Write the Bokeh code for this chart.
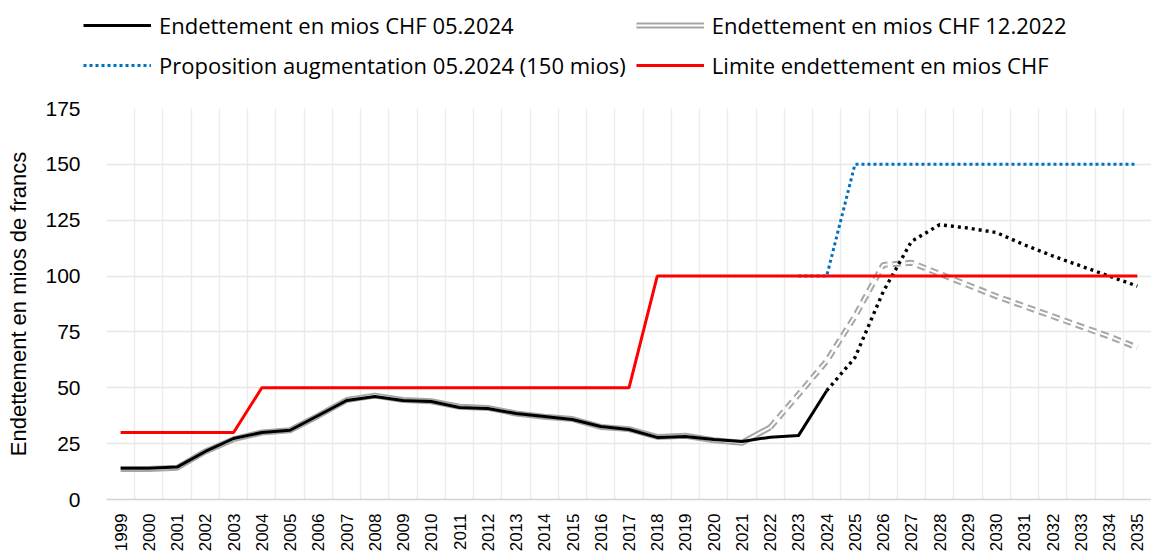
import math
from bokeh.plotting import figure
from bokeh.layouts import column
from bokeh.models import Range1d, FixedTicker, Legend, LegendItem
from bokeh.embed import file_html
from bokeh.resources import INLINE

# ---- data ----
years = [1999, 2000, 2001, 2002, 2003, 2004, 2005, 2006, 2007, 2008, 2009, 2010,
         2011, 2012, 2013, 2014, 2015, 2016, 2017, 2018, 2019, 2020, 2021, 2022,
         2023, 2024, 2025, 2026, 2027, 2028, 2029, 2030, 2031, 2032, 2033, 2034, 2035]

# Endettement en mios CHF 05.2024 : realised 1999-2024, forecast 2024-2035
debt_0524_years = years[:26]
debt_0524 = [14.0, 14.0, 14.5, 21.5, 27.3, 30.0, 31.0, 37.6, 44.3, 46.1, 44.3, 43.9,
             41.2, 40.7, 38.5, 37.2, 35.8, 32.7, 31.3, 27.8, 28.2, 26.9, 26.0, 27.9,
             28.6, 48.7]
debt_0524_fc_years = years[25:]
debt_0524_fc = [48.7, 63.5, 93.0, 115.5, 123.0, 121.5, 119.5, 114.0, 109.0, 104.5, 100.0, 95.5]

# Endettement en mios CHF 12.2022 : realised 1999-2022, forecast 2022-2035
debt_1222_years = years[:24]
debt_1222 = [13.6, 13.6, 14.2, 21.5, 27.0, 30.0, 31.0, 37.5, 44.5, 46.5, 44.5, 44.0,
             41.5, 41.0, 38.5, 37.0, 36.0, 32.5, 31.5, 28.0, 28.5, 26.5, 25.4, 32.3]
debt_1222_fc_years = years[23:]
debt_1222_fc = [32.3, 47.0, 62.0, 82.0, 105.0, 106.0, 101.0, 96.0, 91.0, 86.5, 82.0, 77.5, 73.0, 68.0]

# Proposition augmentation 05.2024 (150 mios)
proposal_years = years[24:]
proposal = [100, 100, 150, 150, 150, 150, 150, 150, 150, 150, 150, 150, 150]

# Limite endettement en mios CHF
limit = [30, 30, 30, 30, 30,
         50, 50, 50, 50, 50, 50, 50, 50, 50, 50, 50, 50, 50, 50,
         100, 100, 100, 100, 100, 100, 100, 100, 100, 100, 100, 100, 100, 100, 100, 100, 100, 100]

y_ticks = [0, 25, 50, 75, 100, 125, 150, 175]

labels = ["Endettement en mios CHF 05.2024",
          "Endettement en mios CHF 12.2022",
          "Proposition augmentation 05.2024 (150 mios)",
          "Limite endettement en mios CHF"]

GRAY = "#a6a6a6"
BLACK = "#000000"
BLUE = "#0070c0"
RED = "#ff0000"

# ---- main chart ----
p = figure(width=1151, height=463,
           x_range=Range1d(years[0] - 0.5, years[-1] + 0.5),
           y_range=Range1d(0, 175),
           output_backend="svg", toolbar_location=None,
           min_border_left=106, min_border_right=0,
           min_border_top=12, min_border_bottom=60)
p.outline_line_color = None

p.ygrid.ticker = FixedTicker(ticks=y_ticks)
p.ygrid.grid_line_color = "#e6e6e6"
p.ygrid.grid_line_width = 1.5
p.xgrid.ticker = FixedTicker(ticks=[y - 0.5 for y in years] + [years[-1] + 0.5])
p.xgrid.grid_line_color = "#ececec"
p.xgrid.grid_line_width = 1.5

xa = p.xaxis[0]
xa.ticker = FixedTicker(ticks=years)
xa.major_label_orientation = math.pi / 2
xa.major_label_text_font = "Liberation Sans"
xa.major_label_text_font_size = "17px"
xa.major_label_text_color = "#000000"
xa.major_label_standoff = 14
xa.major_tick_line_color = None
xa.major_tick_out = 0
xa.major_tick_in = 0
xa.minor_tick_line_color = None
xa.axis_line_color = "#d4d4d4"
xa.axis_line_width = 1.5

ya = p.yaxis[0]
ya.ticker = FixedTicker(ticks=y_ticks)
ya.major_label_text_font = "Liberation Sans"
ya.major_label_text_font_size = "21px"
ya.major_label_text_color = "#000000"
ya.major_label_standoff = 26
ya.major_tick_line_color = None
ya.major_tick_out = 0
ya.major_tick_in = 0
ya.minor_tick_line_color = None
ya.axis_line_color = None
ya.axis_label = "Endettement en mios de francs"
ya.axis_label_text_font = "Liberation Sans"
ya.axis_label_text_font_size = "22px"
ya.axis_label_text_font_style = "normal"
ya.axis_label_text_color = "#000000"
ya.axis_label_standoff = 11


def draw_series(fig):
    r = {}
    r["g_out"] = fig.line(debt_1222_years, debt_1222, line_color=GRAY, line_width=6, line_join="round")
    r["g_in"] = fig.line(debt_1222_years, debt_1222, line_color="white", line_width=2, line_join="round")
    fig.line(debt_1222_fc_years, debt_1222_fc, line_color=GRAY, line_width=6, line_dash="8 5")
    fig.line(debt_1222_fc_years, debt_1222_fc, line_color="white", line_width=2, line_dash="8 5")
    r["black"] = fig.line(debt_0524_years, debt_0524, line_color=BLACK, line_width=3, line_join="round")
    fig.line(debt_0524_fc_years, debt_0524_fc, line_color=BLACK, line_width=3.4, line_dash="3 4")
    r["blue"] = fig.line(proposal_years, proposal, line_color=BLUE, line_width=3, line_dash="3 3")
    r["red"] = fig.line(years, limit, line_color=RED, line_width=3)
    return r


draw_series(p)

# ---- legend strip above the chart ----
# The same series are drawn here but fall outside this strip's ranges, so only
# the legend swatches are visible.
lg = figure(width=1151, height=96, x_range=Range1d(0, 1), y_range=Range1d(0, 1),
            output_backend="svg", toolbar_location=None,
            x_axis_location=None, y_axis_location=None,
            min_border_left=0, min_border_right=0, min_border_top=0, min_border_bottom=0)
lg.outline_line_color = None
lg.grid.visible = False
sw = draw_series(lg)

legend_x = -23
if "frame_align" in lg.properties():
    lg.frame_align = False
    p.frame_align = False
    legend_x = 83

legend = Legend(items=[
    LegendItem(label=labels[0], renderers=[sw["black"]]),
    LegendItem(label=labels[1], renderers=[sw["g_out"], sw["g_in"]]),
    LegendItem(label=labels[2], renderers=[sw["blue"]]),
    LegendItem(label=labels[3], renderers=[sw["red"]]),
], orientation="horizontal", ncols=2, location=(legend_x, 16))
legend.margin = 0
legend.padding = 0
legend.spacing = 10
legend.border_line_color = None
legend.background_fill_alpha = 0
legend.glyph_width = 68
legend.glyph_height = 26
legend.label_height = 26
legend.label_standoff = 8
legend.label_text_font = "Open Sans"
legend.label_text_font_size = "22px"
legend.label_text_color = "#000000"
lg.add_layout(legend, "center")

layout = column(lg, p, spacing=0)
open("out.html", "w").write(file_html(layout, INLINE))
